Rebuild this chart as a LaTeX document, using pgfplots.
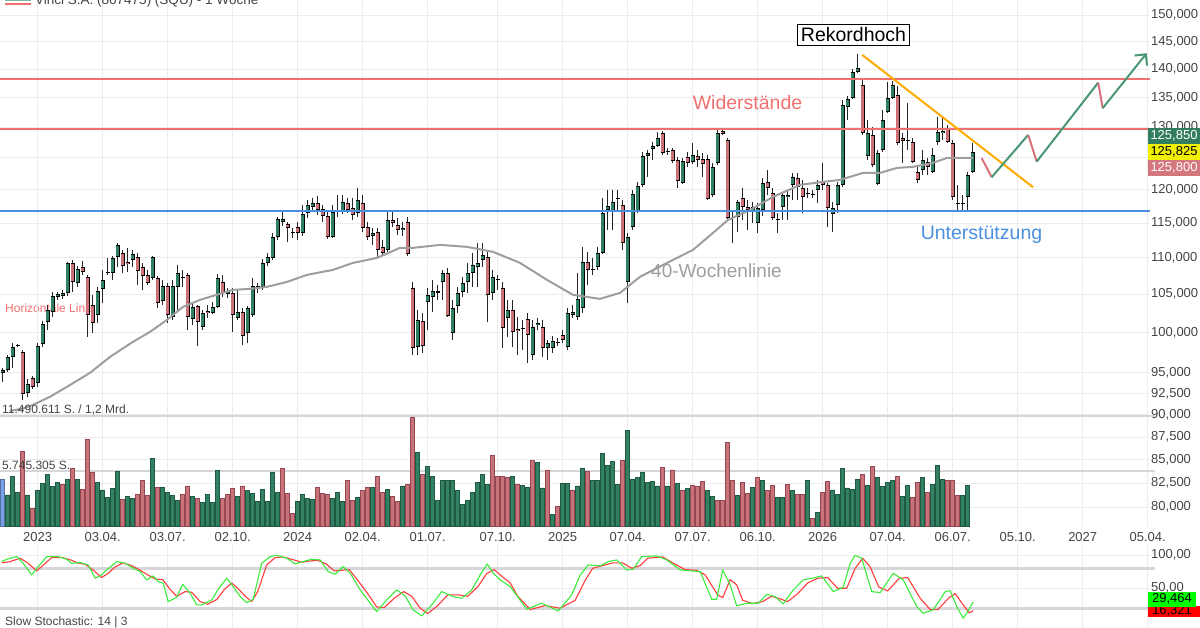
\documentclass[border=0pt]{standalone}
\usepackage{pgfplots}
\pgfplotsset{compat=1.18}
\usepackage{pgfplotstable}
\usepackage{fontspec}
\setmainfont{Liberation Sans}
\usetikzlibrary{arrows.meta}

\definecolor{cgreen}{RGB}{47,128,96}
\definecolor{cred}{RGB}{204,112,120}
\definecolor{vgreen}{RGB}{52,128,98}
\definecolor{vgreenb}{RGB}{30,90,66}
\definecolor{vred}{RGB}{200,115,122}
\definecolor{vredb}{RGB}{150,72,82}
\definecolor{vblue}{RGB}{120,160,230}
\definecolor{gridc}{RGB}{236,236,236}
\definecolor{resred}{RGB}{240,112,112}
\definecolor{supblue}{RGB}{74,144,222}
\definecolor{maline}{RGB}{158,158,158}
\definecolor{txt}{RGB}{68,68,68}
\definecolor{projgreen}{RGB}{72,150,115}
\definecolor{projred}{RGB}{215,115,125}
\definecolor{trend}{RGB}{255,170,0}
\definecolor{stk}{RGB}{60,235,60}
\definecolor{std}{RGB}{255,60,60}
\definecolor{sep}{RGB}{214,214,218}
\definecolor{boxgreen}{RGB}{50,125,95}
\definecolor{boxyellow}{RGB}{240,240,0}
\definecolor{boxred}{RGB}{212,118,126}

\pgfplotstableread{
k o h l c
0 94.96 95.57 93.88 95.32
1 95.32 97.17 95.08 96.92
2 96.92 98.67 95.57 98.17
3 98.42 98.54 98.17 98.29
4 97.54 97.79 91.74 92.45
5 92.57 94.24 92.10 93.64
6 94.36 94.60 93.04 93.28
7 93.76 98.67 93.28 98.29
8 98.54 101.48 98.17 101.09
9 101.35 103.58 100.32 102.92
10 102.65 105.31 102.00 104.77
11 104.64 105.31 104.24 105.04
12 104.77 105.58 104.37 105.18
13 105.18 109.42 104.77 109.28
14 109.28 109.70 105.31 106.66
15 106.53 108.87 105.99 108.45
16 108.73 109.56 107.62 108.03
17 107.35 107.62 99.43 102.26
18 103.58 104.91 99.94 101.22
19 102.26 105.99 101.22 105.44
20 105.71 108.31 103.84 106.93
21 108.03 109.98 107.62 107.85
22 107.90 110.26 106.93 109.98
23 110.12 112.11 108.73 111.82
24 110.69 111.11 107.90 108.87
25 109.42 111.40 108.03 109.14
26 109.70 111.11 108.73 110.55
27 110.12 110.69 106.26 108.17
28 108.73 109.28 105.58 107.48
29 107.62 108.31 106.26 106.53
30 107.21 110.26 106.93 110.12
31 107.21 107.48 103.18 103.84
32 104.11 106.93 103.58 106.12
33 106.12 106.53 101.22 102.26
34 102.00 106.93 101.61 106.12
35 105.99 109.00 102.92 107.90
36 107.35 108.31 105.99 107.18
37 107.62 107.90 100.32 102.00
38 101.74 103.71 100.96 103.31
39 103.44 103.58 98.29 101.35
40 100.71 102.92 100.32 102.52
41 102.78 103.58 101.87 102.52
42 102.52 103.97 102.39 103.31
43 103.31 107.76 103.18 107.21
44 106.66 107.62 104.64 105.18
45 105.04 105.85 104.51 105.44
46 105.18 105.85 100.06 102.26
47 101.87 105.58 101.61 102.65
48 102.65 103.18 98.42 99.56
49 99.94 103.44 98.67 103.18
50 102.26 107.21 102.00 106.12
51 105.71 106.53 105.18 106.12
52 105.99 109.84 105.58 109.28
53 109.28 110.69 108.87 110.12
54 109.98 113.55 109.70 112.97
55 112.97 115.89 112.54 115.60
56 115.16 116.93 114.57 115.60
57 114.86 115.16 112.25 114.28
58 113.70 114.28 112.83 113.52
59 114.42 115.16 112.54 113.55
60 113.55 117.69 113.12 116.34
61 116.49 118.44 115.75 117.69
62 117.38 118.74 116.64 117.99
63 117.99 119.05 116.19 116.93
64 117.08 117.69 115.16 116.04
65 116.04 116.64 112.68 112.97
66 112.97 117.69 112.83 116.64
67 116.64 119.20 115.89 116.82
68 116.64 119.20 116.34 118.14
69 117.99 118.74 116.49 116.93
70 117.23 118.74 115.45 116.19
71 116.49 120.27 115.89 118.44
72 117.99 119.20 113.70 114.28
73 114.42 115.16 112.54 112.97
74 113.12 114.28 111.82 113.55
75 113.70 114.28 109.98 111.11
76 111.54 112.54 110.26 110.69
77 111.11 116.64 110.83 115.45
78 115.45 116.64 114.42 115.01
79 114.72 115.75 113.26 113.98
80 113.98 115.16 113.12 114.28
81 115.16 115.89 110.26 110.55
82 105.85 106.66 97.17 98.04
83 98.17 102.92 97.17 101.61
84 101.48 102.52 97.42 98.29
85 103.97 105.85 100.32 104.91
86 104.64 106.93 102.65 105.44
87 105.18 106.26 104.24 105.38
88 106.66 108.31 104.24 107.90
89 107.90 108.59 102.00 102.13
90 99.94 104.24 99.05 103.18
91 103.44 105.99 102.52 105.18
92 105.31 107.35 104.64 106.53
93 106.66 109.28 105.18 107.90
94 107.90 110.69 105.99 109.00
95 108.73 112.11 105.99 109.28
96 109.70 112.11 108.73 110.41
97 110.12 110.83 101.35 104.91
98 105.18 108.31 104.24 107.35
99 107.07 107.62 105.58 106.89
100 105.85 106.66 98.04 100.58
101 101.87 104.24 99.43 102.92
102 102.92 104.24 98.17 100.07
103 100.45 102.00 97.17 100.19
104 100.45 101.61 97.79 100.62
105 101.74 102.52 96.18 99.68
106 97.17 101.61 96.55 100.71
107 100.96 101.87 100.32 101.22
108 100.71 101.61 96.92 98.04
109 98.04 99.05 96.55 98.67
110 98.04 99.56 97.42 98.92
111 98.80 99.30 98.29 98.62
112 99.68 100.32 98.67 99.05
113 98.17 103.18 97.79 102.52
114 102.26 103.58 101.87 102.65
115 102.00 107.90 101.61 104.37
116 103.18 111.54 102.52 109.42
117 109.42 110.83 106.26 108.31
118 108.31 109.98 107.62 108.49
119 108.73 111.54 108.31 110.69
120 110.69 118.74 110.55 116.49
121 116.93 119.96 113.98 117.53
122 116.64 119.96 113.98 118.14
123 118.74 119.96 116.93 118.55
124 117.69 118.44 111.11 112.11
125 106.66 113.55 103.84 112.97
126 114.42 119.96 113.98 119.35
127 116.64 121.19 116.49 120.58
128 120.73 125.92 120.42 125.32
129 125.32 126.25 121.97 125.76
130 126.41 127.54 124.64 126.89
131 126.89 129.18 126.73 128.20
132 129.02 129.35 125.44 125.76
133 126.09 126.57 125.44 125.90
134 126.25 126.57 124.17 124.49
135 124.64 125.12 120.27 121.35
136 121.04 124.96 120.88 124.49
137 125.12 125.92 123.54 124.17
138 124.33 127.38 124.01 125.44
139 125.28 126.25 123.54 124.64
140 124.80 125.76 121.97 124.01
141 124.80 125.44 118.44 118.59
142 119.20 124.17 118.89 123.54
143 124.17 129.51 123.85 129.02
144 129.35 129.84 128.69 128.85
145 127.87 128.20 115.45 115.75
146 115.75 116.93 112.11 115.94
147 115.89 118.44 113.70 118.14
148 118.74 120.27 115.45 117.38
149 117.38 118.44 113.98 116.93
150 116.79 118.14 115.01 117.38
151 115.01 117.99 113.55 117.23
152 116.93 121.81 116.04 121.04
153 121.19 123.06 119.20 120.27
154 119.50 120.27 115.45 115.75
155 115.60 116.49 113.55 115.42
156 117.38 119.65 115.45 119.20
157 118.89 119.96 115.45 119.20
158 120.73 122.59 118.44 121.97
159 121.81 122.59 118.44 120.42
160 120.27 121.50 116.49 118.89
161 119.50 120.27 118.74 119.32
162 119.35 119.96 118.74 119.17
163 119.96 121.50 117.99 120.73
164 121.35 124.17 119.96 120.73
165 120.73 121.04 114.42 117.23
166 116.34 118.14 113.70 117.23
167 117.69 121.19 116.49 120.73
168 120.73 134.57 120.42 133.72
169 133.37 135.26 131.18 134.74
170 134.91 140.00 134.74 139.47
171 139.47 142.71 139.29 140.18
172 137.18 138.05 128.69 129.02
173 125.32 131.18 124.64 129.02
174 128.69 130.01 123.54 123.85
175 120.88 126.25 120.73 125.76
176 126.25 132.86 125.92 131.18
177 132.52 137.70 132.36 134.91
178 134.91 137.88 134.74 137.18
179 135.43 137.00 127.06 127.38
180 128.20 129.02 124.17 127.71
181 127.87 134.06 126.25 127.69
182 127.54 128.20 124.17 124.33
183 122.75 123.85 121.04 121.50
184 123.06 126.25 122.28 124.64
185 124.33 124.96 122.28 123.54
186 122.75 126.57 122.59 125.44
187 127.54 131.68 127.06 129.18
188 129.02 131.51 127.87 129.35
189 129.68 130.34 127.38 127.54
190 127.38 127.87 118.44 118.89
191 117.99 120.73 116.93 117.81
192 117.99 119.20 116.93 117.81
193 118.89 122.75 116.93 122.28
194 122.75 127.38 122.59 125.83
}\candles

\pgfplotstableread{
k v col
0 4.87 2
1 3.24 1
2 5.15 1
3 3.55 1
4 7.76 0
5 3.24 1
6 1.84 0
7 3.76 1
8 4.45 1
9 5.36 1
10 4.11 1
11 4.59 1
12 4.38 0
13 4.87 1
14 6.02 0
15 4.87 1
16 3.83 0
17 9.08 0
18 5.57 0
19 4.52 1
20 3.76 1
21 2.99 1
22 3.93 1
23 5.67 1
24 2.78 0
25 3.10 1
26 2.85 1
27 3.27 0
28 4.73 0
29 3.20 0
30 7.03 1
31 4.04 0
32 4.04 1
33 3.48 1
34 3.20 1
35 2.64 1
36 3.34 0
37 4.18 0
38 3.13 1
39 2.85 0
40 2.44 1
41 3.31 1
42 2.44 1
43 5.78 1
44 2.85 0
45 3.34 0
46 3.90 0
47 3.13 1
48 4.18 0
49 3.69 1
50 3.41 1
51 2.54 1
52 3.83 1
53 2.54 1
54 5.64 1
55 3.55 1
56 6.02 0
57 3.41 0
58 1.32 0
59 2.54 1
60 3.31 1
61 2.85 1
62 2.78 1
63 4.04 0
64 3.41 0
65 3.27 0
66 2.85 1
67 3.48 1
68 2.54 1
69 4.73 0
70 2.71 0
71 2.96 1
72 3.69 0
73 4.04 0
74 4.04 1
75 5.15 0
76 3.55 0
77 3.83 1
78 3.13 0
79 2.58 0
80 4.18 1
81 4.32 0
82 11.41 0
83 7.66 1
84 5.36 0
85 6.19 1
86 5.15 1
87 2.71 1
88 4.80 1
89 4.73 1
90 4.80 1
91 3.69 1
92 2.23 1
93 2.71 1
94 3.48 1
95 4.52 1
96 5.36 1
97 4.38 1
98 7.38 0
99 5.22 0
100 5.22 0
101 5.08 0
102 5.15 1
103 4.38 0
104 4.25 1
105 4.04 1
106 6.89 0
107 6.61 1
108 3.97 1
109 5.85 0
110 1.25 1
111 2.09 0
112 4.45 1
113 4.45 1
114 3.76 0
115 4.18 1
116 5.99 1
117 5.67 0
118 4.80 1
119 4.80 1
120 7.59 1
121 6.33 1
122 6.75 1
123 4.38 1
124 6.82 0
125 10.02 1
126 4.87 1
127 5.08 1
128 5.64 1
129 4.59 1
130 4.66 1
131 4.18 1
132 6.12 0
133 4.18 1
134 5.85 0
135 4.45 1
136 3.76 0
137 3.90 1
138 4.25 0
139 4.18 0
140 4.66 0
141 3.69 1
142 3.13 1
143 2.64 0
144 2.64 0
145 8.77 0
146 4.73 0
147 3.20 1
148 4.52 0
149 3.41 0
150 4.04 1
151 5.08 0
152 4.73 1
153 3.69 0
154 4.25 0
155 2.99 1
156 2.99 1
157 4.38 0
158 3.69 1
159 3.34 0
160 3.27 0
161 4.73 1
162 0.80 0
163 1.46 1
164 3.55 0
165 4.66 0
166 3.76 1
167 3.34 1
168 5.99 1
169 3.97 1
170 3.83 1
171 4.87 1
172 5.43 0
173 4.25 1
174 6.26 0
175 5.08 1
176 4.18 1
177 4.52 1
178 4.73 1
179 5.22 0
180 3.13 1
181 4.25 1
182 2.99 0
183 4.59 0
184 5.08 1
185 3.55 0
186 4.38 1
187 6.33 1
188 4.87 1
189 4.80 0
190 4.73 0
191 3.20 0
192 3.20 1
193 4.25 1
}\volumes

% build candle segment lists (nan separates segments) from the table
\def\wicks{}\def\gbodyb{}\def\gbodyf{}\def\rbodyb{}\def\rbodyf{}
\pgfplotstablegetrowsof{\candles}
\pgfmathtruncatemacro\lastrow{\pgfplotsretval-1}
\pgfplotsforeachungrouped \i in {0,...,\lastrow}{%
  \pgfplotstablegetelem{\i}{k}\of\candles\let\vk\pgfplotsretval
  \pgfplotstablegetelem{\i}{o}\of\candles\let\vo\pgfplotsretval
  \pgfplotstablegetelem{\i}{h}\of\candles\let\vh\pgfplotsretval
  \pgfplotstablegetelem{\i}{l}\of\candles\let\vl\pgfplotsretval
  \pgfplotstablegetelem{\i}{c}\of\candles\let\vc\pgfplotsretval
  \xdef\wicks{\wicks(\vk,\vl)(\vk,\vh)(\vk,nan)}%
  \pgfmathsetmacro\lo{min(\vo,\vc)}%
  \pgfmathsetmacro\hi{max(\vo,\vc)}%
  \pgfmathsetmacro\loin{\lo*1.0011}%
  \pgfmathsetmacro\hiin{\hi/1.0011}%
  \pgfmathtruncatemacro\isgreen{\vc>=\vo ? 1 : 0}%
  \pgfmathtruncatemacro\hasfill{\hiin>\loin ? 1 : 0}%
  \ifnum\isgreen=1
    \xdef\gbodyb{\gbodyb(\vk,\lo)(\vk,\hi)(\vk,nan)}%
    \ifnum\hasfill=1 \xdef\gbodyf{\gbodyf(\vk,\loin)(\vk,\hiin)(\vk,nan)}\fi
  \else
    \xdef\rbodyb{\rbodyb(\vk,\lo)(\vk,\hi)(\vk,nan)}%
    \ifnum\hasfill=1 \xdef\rbodyf{\rbodyf(\vk,\loin)(\vk,\hiin)(\vk,nan)}\fi
  \fi
}
\newcommand\plotlist[2]{\edef\tmpplot{\noexpand\addplot[\unexpanded{#1}] coordinates {#2};}\tmpplot}

\begin{document}
\begin{tikzpicture}[x=1pt,y=1pt]
\useasboundingbox (0pt,0pt) rectangle (1200pt,628pt);

% text that lies under the candles
\node[anchor=base west, inner sep=0pt, text=resred, font=\fontsize{12}{14}\selectfont] at (5pt,315pt) {Horizontale Linie};

% ---------------- price panel ----------------
\begin{axis}[at={(0pt,101pt)}, anchor=south west, scale only axis,
  width=1150pt, height=527pt,
  xmin=-0.54, xmax=229.46, ymode=log, ymin=78.005, ymax=152.901,
  axis line style={draw=none}, major tick length=0pt,
  xtick={7,20,33,46,59,72,85,99,112,125,138,151,164,177,190,203,216,229},
  xticklabels={,,},
  ytick={80,82.5,85,87.5,90,92.5,95,100,105,110,115,120,125,130,135,140,145,150},
  yticklabels={{80,000},{82,500},{85,000},{87,500},{90,000},{92,500},{95,000},{100,000},{105,000},{110,000},{115,000},{120,000},{},{130,000},{135,000},{140,000},{145,000},{150,000}},
  yticklabel pos=right,
  yticklabel style={anchor=west, inner sep=0pt, xshift=1pt, font=\fontsize{13}{15}\selectfont, text=txt},
  grid=major, grid style={gridc, line width=0.8pt},
  unbounded coords=jump,
  clip=false]

% candles: wicks, then bodies (black outline, coloured inside)
\plotlist{black!85, line width=0.9pt, forget plot}{\wicks}
\plotlist{black, line width=4.4pt, line cap=butt, forget plot}{\gbodyb}
\plotlist{black, line width=4.4pt, line cap=butt, forget plot}{\rbodyb}
\plotlist{cgreen, line width=2.8pt, line cap=butt, forget plot}{\gbodyf}
\plotlist{cred, line width=2.8pt, line cap=butt, forget plot}{\rbodyf}

% 40-week line
\addplot[maline, line width=2pt, line join=round] coordinates {(1.46,90.46) (3.86,90.69) (6.06,91.16) (9.46,92.10) (12.86,93.28) (17.46,94.96) (21.46,96.92) (26.06,98.80) (29.46,100.06) (32.86,101.61) (36.06,103.31) (39.46,104.24) (46.06,105.58) (49.46,105.71) (52.86,105.99) (56.86,106.66) (60.86,107.62) (66.06,108.31) (70.06,109.28) (74.86,109.98) (79.46,111.40) (82.06,111.40) (87.46,111.82) (92.86,111.54) (98.06,110.83) (103.46,109.28) (108.86,106.93) (114.06,104.91) (119.46,104.37) (123.46,105.18) (127.46,107.35) (132.86,109.28) (138.06,111.11) (142.06,113.55) (145.06,115.45) (149.46,116.93) (154.06,118.89) (159.46,120.73) (164.06,121.19) (167.46,121.50) (172.06,122.59) (175.46,122.59) (178.86,123.38) (182.06,123.54) (186.06,124.17) (188.86,124.96) (194.06,124.96)};

% resistance and support lines
\addplot[resred, line width=2.2pt] coordinates {(-0.54,138.23) (229.46,138.23)};
\addplot[resred, line width=2.2pt] coordinates {(-0.54,129.63) (229.46,129.63)};
\addplot[supblue, line width=2.2pt] coordinates {(-0.54,116.71) (229.46,116.71)};

% falling trend line
\addplot[trend, line width=2pt] coordinates {(171.9,142.53) (206.06,120.37)};

% projected path
\addplot[projred, line width=2pt] coordinates {(195.8,124.92) (197.8,121.92)};
\addplot[projgreen, line width=2pt] coordinates {(197.8,121.92) (205.1,128.69)};
\addplot[projred, line width=2pt] coordinates {(205.1,128.69) (206.8,124.37)};
\addplot[projgreen, line width=2pt] coordinates {(206.8,124.37) (219.1,137.58)};
\addplot[projred, line width=2pt] coordinates {(219.1,137.58) (220.0,133.15)};
\addplot[projgreen, line width=2pt, -{Straight Barb[length=8pt,width=16pt,line width=2pt]}] coordinates {(220.0,133.15) (228.8,142.84)};
\end{axis}

% ---------------- volume panel ----------------
\begin{axis}[at={(0pt,102pt)}, anchor=south west, scale only axis,
  width=1150pt, height=110pt,
  xmin=-0.54, xmax=229.46, ymin=0, ymax=11.490611,
  axis line style={draw=none}, major tick length=0pt,
  ytick=\empty,
  xtick={7,20,33,46,59,72,85,99,112,125,138,151,164,177,190,203,216,229},
  xticklabels={2023,03.04.,03.07.,02.10.,2024,02.04.,01.07.,07.10.,2025,07.04.,07.07.,06.10.,2026,07.04.,06.07.,05.10.,2027,05.04.},
  xticklabel style={anchor=base, yshift=-15.7pt, font=\fontsize{13}{15}\selectfont, text=txt},
  clip=false]
\addplot[sep, line width=2pt] coordinates {(-0.54,11.490611) (230.5,11.490611)};
\addplot[sep, line width=2pt] coordinates {(-0.54,5.745305) (230.5,5.745305)};
\addplot[ybar, bar width=4pt, bar shift=0pt, fill=vgreen, draw=vgreenb, line width=0.5pt,
  restrict expr to domain={\thisrow{col}}{0.5:1.5}] table[x=k, y=v] {\volumes};
\addplot[ybar, bar width=4pt, bar shift=0pt, fill=vred, draw=vredb, line width=0.5pt,
  restrict expr to domain={\thisrow{col}}{-0.5:0.5}] table[x=k, y=v] {\volumes};
\addplot[ybar, bar width=4pt, bar shift=0pt, fill=vblue, draw=vblue!70!black, line width=0.5pt,
  restrict expr to domain={\thisrow{col}}{1.5:2.5}] table[x=k, y=v] {\volumes};
\end{axis}

% ---------------- stochastic panel ----------------
\begin{axis}[at={(0pt,0pt)}, anchor=south west, scale only axis,
  width=1150pt, height=83pt,
  xmin=-0.54, xmax=229.46, ymin=-9.6, ymax=114.9,
  axis line style={draw=none}, major tick length=0pt,
  xtick={7,20,33,46,59,72,85,99,112,125,138,151,164,177,190,203,216,229},
  xticklabels={,,},
  ytick={50,100}, yticklabels={{50,00},{100,00}},
  yticklabel pos=right,
  yticklabel style={anchor=west, inner sep=0pt, xshift=1pt, font=\fontsize{13}{15}\selectfont, text=txt},
  grid=major, grid style={gridc, line width=0.8pt},
  clip=false]
\addplot[sep, line width=3pt] coordinates {(-0.54,80) (230.5,80)};
\addplot[sep, line width=3pt] coordinates {(-0.54,20) (230.5,20)};
\addplot[std, line width=1.1pt, line join=round] coordinates {(-0.2,88) (1.5,90) (3.5,95) (5.0,88) (6.8,76) (8.0,84) (9.8,96) (12.0,96) (13.8,92) (15.0,88) (16.5,86) (18.3,76) (19.8,66) (21.0,72) (22.5,82) (24.0,88) (25.8,84) (27.5,77) (29.0,70) (30.5,64) (32.0,63) (33.5,48) (34.8,38) (36.5,45) (37.8,44) (39.5,30) (41.0,26) (42.8,33) (44.3,48) (45.8,58) (47.0,50) (48.5,38) (49.8,30) (51.0,45) (52.8,85) (54.5,96) (56.0,97) (58.0,93) (59.8,89) (61.5,91) (63.0,92) (64.8,86) (66.3,76) (67.8,77) (69.3,78) (71.0,62) (73.0,42) (74.8,22) (76.3,21) (78.3,35) (80.2,45) (81.8,38) (83.5,20) (85.0,12) (87.0,24) (89.0,40) (91.2,40) (93.0,38) (95.0,52) (96.8,72) (98.3,78) (99.5,70) (101.5,58) (103.0,38) (105.5,18) (108.5,24) (111.5,20) (114.5,32) (116.5,62) (118.0,80) (120.0,84) (122.0,88) (124.0,88) (125.8,80) (127.5,84) (129.0,95) (132.0,97) (134.0,88) (136.5,78) (138.8,77) (140.5,70) (143.0,40) (144.0,36) (145.5,63) (146.8,55) (148.0,32) (150.0,27) (152.0,30) (153.8,38) (155.5,34) (157.0,30) (159.0,42) (161.0,58) (163.0,65) (165.0,66) (167.0,50) (168.8,50) (170.5,80) (172.0,95) (173.5,82) (175.2,52) (177.0,46) (179.3,65) (181.0,66) (183.5,35) (185.5,18) (187.0,18) (189.3,36) (190.5,42) (192.0,26) (193.3,13) (194.1,16.3)};
\addplot[stk, line width=1.1pt, line join=round] coordinates {(-0.2,90) (0.8,93.5) (2.8,97.5) (4.1,87.5) (5.8,70) (7.1,82.5) (8.8,97.5) (11.1,97.5) (12.8,93.5) (13.8,87.5) (15.5,88.5) (17.1,85) (18.5,65) (19.5,68.5) (20.8,77.5) (22.8,90) (24.5,87.5) (26.1,80) (27.5,75) (28.8,62.5) (30.1,68.5) (31.1,60) (32.1,57.5) (33.1,30) (34.8,36.5) (36.0,56) (37.5,42.5) (38.8,25) (39.8,25) (41.8,32.5) (43.1,48.5) (44.8,65) (46.1,52.5) (47.5,37.5) (48.8,28.5) (50.1,33.5) (51.8,87.5) (53.5,97.5) (54.8,99.5) (56.8,95) (58.5,86.5) (60.1,90) (61.8,93.5) (63.5,92.5) (65.1,75) (66.5,71) (68.1,82.5) (69.5,72.5) (71.5,47.5) (73.5,27.5) (74.8,15) (76.8,32.5) (78.8,47.5) (80.5,38.5) (82.1,17.5) (83.8,8.5) (85.8,25) (87.8,45) (90.1,37.5) (91.8,35) (93.8,47.5) (95.5,70) (96.9,86.5) (98.1,72.5) (99.5,62.5) (101.5,52.5) (104.8,18.5) (107.8,27.5) (111.1,16) (113.8,40) (115.5,70) (117.1,85) (119.5,83.5) (121.1,90) (122.8,92.5) (124.8,77.5) (126.1,78.5) (127.8,97.5) (130.8,98.5) (132.8,92.5) (135.5,77.5) (136.8,76.5) (139.5,75) (141.8,33.5) (142.8,33.5) (144.0,77.5) (145.5,55) (146.8,23.5) (148.8,27.5) (151.1,27.5) (152.8,41) (154.5,37.5) (156.1,26.5) (158.1,47.5) (160.1,62.5) (161.8,65) (163.8,68.5) (166.1,45) (168.1,51.5) (169.5,87.5) (170.5,99.5) (171.8,95) (173.8,45) (175.5,43.5) (178.1,72.5) (180.1,62.5) (182.8,22.5) (184.1,12.5) (186.1,17.5) (188.5,45) (189.5,46.5) (190.8,22.5) (192.1,5) (192.8,12.5) (194.1,29.464)};
\end{axis}

% ---------------- labels and boxes ----------------
\draw[projgreen!70, line width=1.5pt] (5pt,627.3pt) -- (31pt,627.3pt);
\draw[resred, line width=1.5pt] (5pt,624pt) -- (31pt,624pt);
\node[anchor=base west, inner sep=0pt, text=txt, font=\fontsize{13.5}{15}\selectfont] at (35pt,623pt) {Vinci S.A. (867475) (SQU) - 1 Woche};

\node[draw=black, line width=1pt, fill=white, inner sep=3pt, font=\fontsize{19.5}{22}\selectfont] at (853.5pt,593pt) {Rekordhoch};
\node[anchor=base, inner sep=0pt, text=resred, font=\fontsize{19.5}{22}\selectfont] at (747.5pt,518.5pt) {Widerstände};
\node[anchor=base, inner sep=0pt, text=supblue, font=\fontsize{19.5}{22}\selectfont] at (981.5pt,388.5pt) {Unterstützung};
\node[anchor=base, inner sep=0pt, text=maline, font=\fontsize{19}{22}\selectfont] at (716.5pt,350pt) {40-Wochenlinie};

\node[anchor=base west, inner sep=0pt, text=txt, font=\fontsize{12}{14}\selectfont] at (2pt,214pt) {11.490.611 S. / 1,2 Mrd.};
\node[anchor=base west, inner sep=0pt, text=txt, font=\fontsize{12}{14}\selectfont] at (2pt,158.5pt) {5.745.305 S.};
\node[anchor=base west, inner sep=0pt, text=txt, font=\fontsize{12}{14}\selectfont] at (5pt,2pt) {Slow Stochastic: 14 | 3};

% last-price boxes
\fill[boxred] (1148pt,452pt) rectangle (1200pt,468pt);
\node[inner sep=0pt, text=white, font=\fontsize{13}{15}\selectfont] at (1174pt,460pt) {125,800};
\fill[boxyellow] (1148pt,468pt) rectangle (1200pt,484pt);
\node[inner sep=0pt, text=black, font=\fontsize{13}{15}\selectfont] at (1174pt,476pt) {125,825};
\fill[boxgreen] (1148pt,484pt) rectangle (1200pt,499.5pt);
\node[inner sep=0pt, text=white, font=\fontsize{13}{15}\selectfont] at (1174pt,491.7pt) {125,850};

% stochastic value boxes
\fill[red] (1148pt,10.7pt) rectangle (1200pt,22pt);
\node[inner sep=0pt, text=black, font=\fontsize{13}{15}\selectfont] at (1172pt,17pt) {16,321};
\fill[green] (1148pt,21.3pt) rectangle (1196pt,36.3pt);
\node[inner sep=0pt, text=black, font=\fontsize{13}{15}\selectfont] at (1172pt,28.8pt) {29,464};
\end{tikzpicture}
\end{document}
